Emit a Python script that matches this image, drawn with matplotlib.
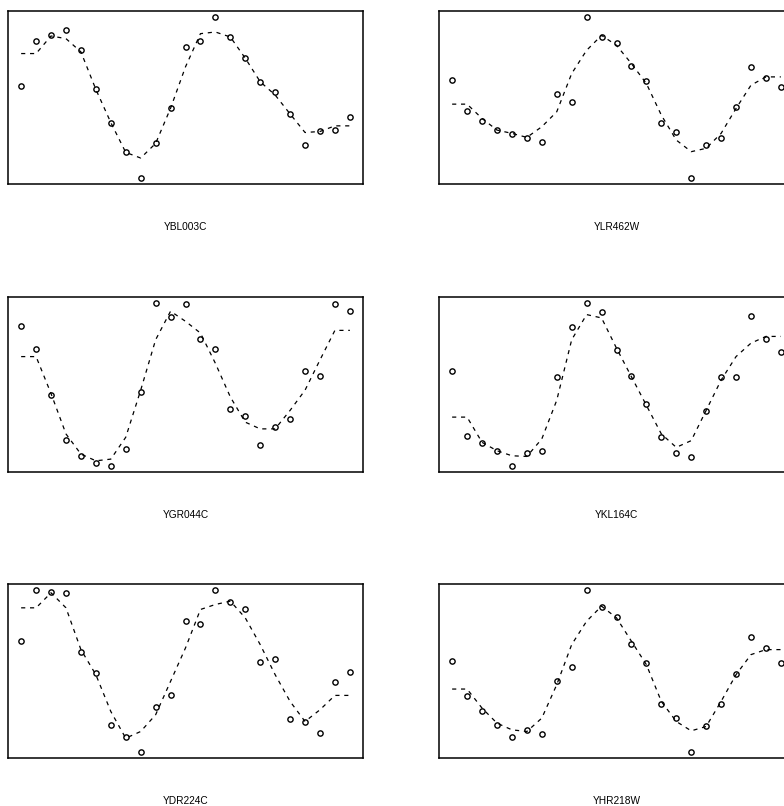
import numpy as np
import matplotlib
matplotlib.use('Agg')
import matplotlib.pyplot as plt

plt.rcParams['font.family'] = ['Liberation Sans', 'DejaVu Sans']

# 23 time points per gene, observed (circles) and smoothed fit (dashed)
genes = ['YBL003C', 'YLR462W', 'YGR044C', 'YKL164C', 'YDR224C', 'YHR218W']

ybl003c_obs = [0.43, 1.79, 1.95, 2.10, 1.50, 0.32, -0.68, -1.58, -2.34, -1.31, -0.25, 1.60,
               1.77, 2.49, 1.90, 1.26, 0.55, 0.23, -0.42, -1.35, -0.93, -0.90, -0.50]
ybl003c_fit = [1.40, 1.40, 1.93, 1.85, 1.45, 0.32, -0.68, -1.58, -1.75, -1.31, -0.25, 1.00,
               2.00, 2.05, 1.90, 1.26, 0.55, 0.15, -0.42, -0.98, -0.95, -0.78, -0.78]

ylr462w_obs = [0.62, -0.34, -0.62, -0.91, -1.01, -1.15, -1.27, 0.19, -0.07, 2.49, 1.90, 1.73,
               1.04, 0.58, -0.70, -0.97, -2.33, -1.36, -1.15, -0.20, 1.00, 0.67, 0.41]
ylr462w_fit = [-0.12, -0.12, -0.55, -0.90, -1.00, -1.12, -0.80, -0.35, 0.80, 1.50, 1.95, 1.65,
               1.10, 0.50, -0.45, -1.20, -1.55, -1.45, -1.00, -0.25, 0.45, 0.70, 0.70]

ygr044c_obs = [1.90, 1.23, -0.13, -1.48, -1.97, -2.17, -2.24, -1.75, -0.06, 2.58, 2.18, 2.56,
               1.53, 1.23, -0.57, -0.77, -1.63, -1.09, -0.87, 0.57, 0.43, 2.55, 2.35]
ygr044c_fit = [1.00, 1.00, -0.10, -1.30, -1.90, -2.10, -2.05, -1.40, 0.00, 1.50, 2.35, 2.05,
               1.70, 0.80, -0.20, -0.95, -1.15, -1.15, -0.60, 0.00, 0.90, 1.78, 1.78]

ykl164c_obs = [0.56, -1.35, -1.58, -1.82, -2.24, -1.88, -1.82, 0.39, 1.89, 2.58, 2.34, 1.19,
               0.41, -0.41, -1.39, -1.87, -2.00, -0.61, 0.39, 0.40, 2.20, 1.53, 1.14]
ykl164c_fit = [-0.80, -0.80, -1.55, -1.80, -1.95, -1.97, -1.45, -0.30, 1.50, 2.25, 2.15, 1.25,
               0.40, -0.45, -1.30, -1.70, -1.50, -0.60, 0.30, 1.00, 1.40, 1.60, 1.60]

ydr224c_obs = [1.01, 2.52, 2.48, 2.44, 0.67, 0.05, -1.51, -1.87, -2.30, -0.96, -0.61, 1.62,
               1.51, 2.52, 2.16, 1.97, 0.37, 0.46, -1.33, -1.41, -1.75, -0.22, 0.07]
ydr224c_fit = [2.00, 2.00, 2.45, 2.00, 0.75, 0.00, -1.10, -1.90, -1.70, -1.20, -0.20, 0.80,
               1.95, 2.10, 2.20, 1.70, 0.90, 0.00, -0.80, -1.40, -1.05, -0.62, -0.62]

yhr218w_obs = [0.41, -0.65, -1.08, -1.52, -1.85, -1.67, -1.78, -0.19, 0.23, 2.52, 2.03, 1.73,
               0.92, 0.35, -0.87, -1.30, -2.30, -1.55, -0.87, 0.01, 1.12, 0.81, 0.34]
yhr218w_fit = [-0.43, -0.43, -1.00, -1.45, -1.65, -1.70, -1.30, -0.30, 0.90, 1.60, 2.05, 1.70,
               1.00, 0.30, -0.80, -1.40, -1.68, -1.55, -0.80, 0.00, 0.60, 0.75, 0.75]

obs = [ybl003c_obs, ylr462w_obs, ygr044c_obs, ykl164c_obs, ydr224c_obs, yhr218w_obs]
fit = [ybl003c_fit, ylr462w_fit, ygr044c_fit, ykl164c_fit, ydr224c_fit, yhr218w_fit]

W, H = 784, 806
fig = plt.figure(figsize=(W / 100., H / 100.), dpi=100)

# panel boxes in pixels: (left, top, width, height)
lefts = [8, 439]
rows = [(11, 173), (297, 175), (584, 174)]
box_w = 355

for i, gene in enumerate(genes):
    top, h = rows[i // 2]
    left = lefts[i % 2]
    ax = fig.add_axes([left / float(W), 1 - (top + h) / float(H), box_w / float(W), h / float(H)])
    y = np.array(obs[i])
    x = np.arange(len(y))
    ax.plot(x, fit[i], color='black', lw=0.9, dashes=(3.3, 3.8))
    ax.plot(x, y, 'o', mfc='none', mec='black', ms=3.8, mew=1.0)
    # R style 4% padding
    xr = x.max() - x.min()
    yr = y.max() - y.min()
    ax.set_xlim(x.min() - 0.04 * xr, x.max() + 0.04 * xr)
    ax.set_ylim(y.min() - 0.04 * yr, y.max() + 0.04 * yr)
    ax.set_xticks([])
    ax.set_yticks([])
    for s in ax.spines.values():
        s.set_linewidth(1.1)
        s.set_color('black')
    ax.annotate(gene, xy=(0.5, 0), xycoords='axes fraction', xytext=(0, -31.3),
                textcoords='offset points', ha='center', va='center', fontsize=7.3)

fig.savefig('out.png', dpi=100)
plt.close()
